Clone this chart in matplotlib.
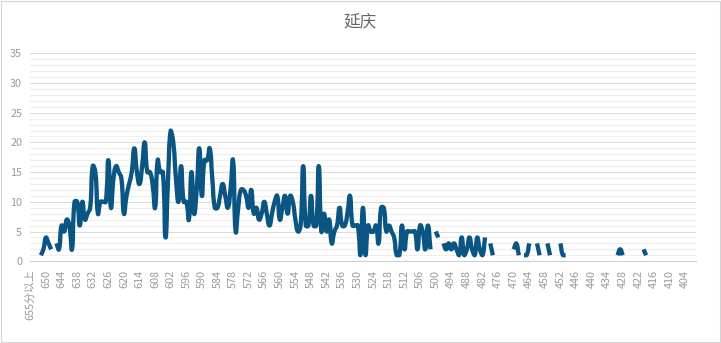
import numpy as np
import matplotlib
matplotlib.use('Agg')
import matplotlib.pyplot as plt
from matplotlib.path import Path
from matplotlib.patches import PathPatch, Rectangle
from matplotlib.ticker import MultipleLocator, FixedLocator, FixedFormatter

plt.rcParams['font.family'] = ['Noto Sans CJK SC', 'DejaVu Sans']

title = '延庆'
scores = ['655分以上'] + [str(s) for s in range(655, 399, -1)]
N = None
counts = [
    N, N, N, N, 1, 2, 4, 3, 2, N,
    3, 2, 6, 5, 7, 6, 2, 10, 10, 6,
    10, 7, 8, 9, 16, 15, 8, 10, 10, 10,
    17, 9, 14, 16, 15, 14, 8, 11, 13, 15,
    19, 15, 13, 16, 20, 15, 15, 13, 9, 17,
    15, 15, 4, 14, 22, 20, 14, 10, 16, 10,
    10, 7, 15, 8, 12, 19, 11, 17, 17, 19,
    14, 9, 9, 11, 13, 11, 9, 12, 17, 5,
    9, 12, 12, 11, 9, 12, 8, 9, 7, 8,
    10, 8, 6, 8, 10, 11, 7, 9, 11, 8,
    11, 10, 7, 5, 6, 16, 6, 6, 11, 6,
    6, 16, 5, 8, 5, 7, 3, 5, 6, 9,
    6, 6, 8, 11, 6, 6, 6, 1, 9, 1,
    6, 5, 5, 6, 3, 9, 9, 5, 6, 5,
    4, 1, 1, 6, 2, 5, 5, 5, 5, 2,
    6, 5, 2, 6, 2, N, 5, 4, N, 3,
    2, 3, 2, 3, 2, 1, 4, 1, 2, 4,
    2, 1, 4, 2, 1, 4, N, 3, 1, N,
    N, N, N, N, N, N, 2, 3, 1, N,
    1, 1, 3, N, N, 3, 1, N, N, 3,
    1, N, N, N, 3, 1, 1, N, N, N,
    N, N, N, N, N, N, N, N, N, N,
    N, N, N, N, N, N, 1, 2, 1, N,
    N, N, N, N, N, N, 2, 1, N, N,
    N, N, N, N, N, N, N, N, N, N,
    N, N, N, N, N, N, N,
]

line_color = '#0b5583'

W, H = 721, 343
fig = plt.figure(figsize=(W / 100, H / 100), dpi=100)
ax_left, ax_right = 30.4, 695.5
ax_bottom, ax_top = 261.2, 53.3
ax = fig.add_axes([ax_left / W, 1 - ax_bottom / H,
                   (ax_right - ax_left) / W, (ax_bottom - ax_top) / H])

n = len(scores)
ax.set_xlim(0, n - 1)
ax.set_ylim(0, 35)

# pixel scale for smoothing (ECharts-like bezier smoothing)
sx = (ax_right - ax_left) / (n - 1)
sy = (ax_bottom - ax_top) / 35.0


def smooth_segment(xs, ys, smooth=0.5):
    P = np.column_stack([np.asarray(xs, float) * sx, np.asarray(ys, float) * sy])
    m = len(P)
    ymin, ymax = P[:, 1].min(), P[:, 1].max()
    if m == 1:
        return None
    cps = []
    for i in range(m):
        prev = P[i - 1] if i > 0 else P[i]
        nxt = P[i + 1] if i < m - 1 else P[i]
        v = nxt - prev
        d0 = np.hypot(*(P[i] - prev))
        d1 = np.hypot(*(nxt - P[i]))
        r = d1 / (d0 + d1) if (d0 + d1) > 0 else 0.5
        cin = P[i] - v * smooth * (1 - r)
        cout = P[i] + v * smooth * r
        cin[1] = min(max(cin[1], ymin), ymax)
        cout[1] = min(max(cout[1], ymin), ymax)
        cps.append((cin, cout))
    verts = [P[0]]
    codes = [Path.MOVETO]
    for i in range(m - 1):
        verts += [cps[i][1], cps[i + 1][0], P[i + 1]]
        codes += [Path.CURVE4] * 3
    verts = np.array(verts) / np.array([sx, sy])
    return Path(verts, codes)


# split into contiguous runs
run_x, run_y = [], []
runs = []
for i, v in enumerate(counts):
    if v is None:
        if run_x:
            runs.append((run_x, run_y))
        run_x, run_y = [], []
    else:
        run_x.append(i)
        run_y.append(v)
if run_x:
    runs.append((run_x, run_y))

for xs, ys in runs:
    p = smooth_segment(xs, ys)
    if p is not None:
        ax.add_patch(PathPatch(p, fill=False, edgecolor=line_color, lw=3.1,
                               joinstyle='round', capstyle='butt', zorder=3))

# grid
ax.yaxis.set_major_locator(MultipleLocator(5))
ax.yaxis.set_minor_locator(MultipleLocator(1))
ax.grid(which='major', axis='y', color='#dcdcdc', lw=0.8)
ax.grid(which='minor', axis='y', color='#eeeeee', lw=0.8)
ax.set_axisbelow(True)

ticks = list(range(0, n, 6))
ax.xaxis.set_major_locator(FixedLocator(ticks))
ax.xaxis.set_major_formatter(FixedFormatter([scores[i] for i in ticks]))
ax.tick_params(axis='x', which='both', length=0, pad=6, labelsize=7.8,
               labelcolor='#9a9a9a', labelrotation=90)
ax.tick_params(axis='y', which='both', length=0, pad=6, labelsize=7.8,
               labelcolor='#9a9a9a')
for lab in ax.get_xticklabels():
    lab.set_va('top')
    lab.set_ha('center')

for s in ['top', 'right', 'left']:
    ax.spines[s].set_visible(False)
ax.spines['bottom'].set_color('#d0d0d0')
ax.spines['bottom'].set_linewidth(0.8)

fig.text(0.5, 1 - 22 / H, title, ha='center', va='center', fontsize=12,
         color='#666666')

fig.patches.append(Rectangle((0.7 / W, 1.5 / H), (W - 1.6) / W, (H - 2.5) / H,
                             transform=fig.transFigure, fill=False,
                             edgecolor='#d4d4d4', lw=0.8))

fig.savefig('out.png', dpi=100)
